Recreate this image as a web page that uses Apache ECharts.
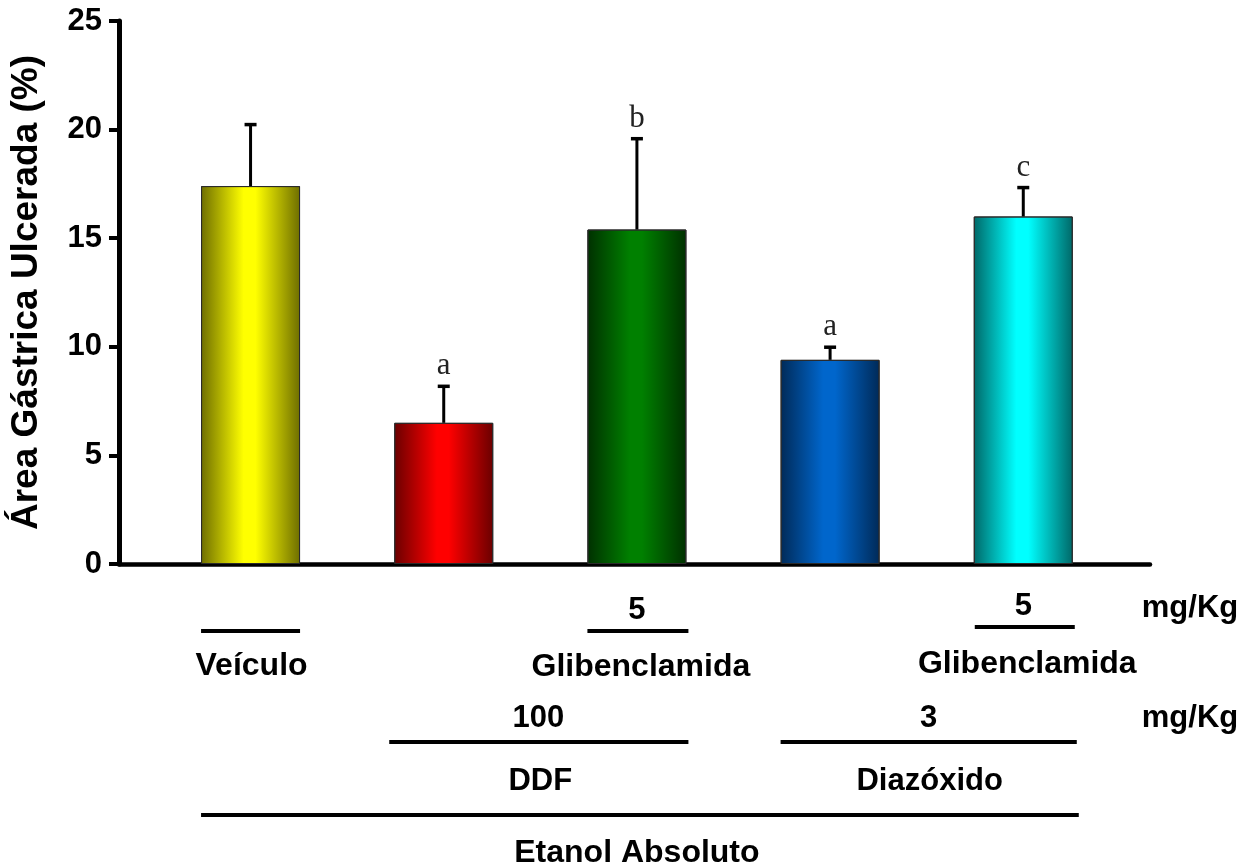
<!DOCTYPE html>
<html>
<head>
<meta charset="utf-8">
<script src="https://cdn.jsdelivr.net/npm/echarts@6/dist/echarts.min.js"></script>
<style>
  html, body { margin: 0; padding: 0; background: #fff; }
  #chart { width: 1253px; height: 868px; }
</style>
</head>
<body>
<div id="chart"></div>
<script>
// Grupos experimentais (ordem das barras)
const categories = ['Veículo', 'DDF', 'DDF + Glibenclamida', 'Diazóxido', 'Diazóxido + Glibenclamida'];
// Área gástrica ulcerada: média e erro padrão (%)
const means = [17.4, 6.5, 15.4, 9.4, 16.0];
const sem = [2.9, 1.75, 4.25, 0.65, 1.4];
// Letras de significância estatística
const letters = ['', 'a', 'b', 'a', 'c'];
// Cores das barras: [borda escura, centro claro]
const barColors = [
  ['#6e6e00', '#ffff00'],
  ['#6a0000', '#ff0000'],
  ['#003000', '#008000'],
  ['#002a58', '#0066cc'],
  ['#006868', '#00ffff']
];
// Textos do esquema de tratamento abaixo do eixo
const doseGlib = '5';
const doseDDF = '100';
const doseDiaz = '3';
const unit = 'mg/Kg';
const nameVehicle = 'Veículo';
const nameGlib = 'Glibenclamida';
const nameDDF = 'DDF';
const nameDiaz = 'Diazóxido';
const nameEthanol = 'Etanol Absoluto';
const yTitle = 'Área Gástrica Ulcerada (%)';

const FONT = "'Liberation Sans', Arial, sans-serif";
const BAR_W = 99;

const chart = echarts.init(document.getElementById('chart'), null, { renderer: 'canvas' });

function barGradient(c) {
  return new echarts.graphic.LinearGradient(0, 0, 1, 0, [
    { offset: 0, color: c[0] },
    { offset: 0.43, color: c[1] },
    { offset: 0.55, color: c[1] },
    { offset: 1, color: c[0] }
  ]);
}

const option = {
  animation: false,
  backgroundColor: '#ffffff',
  grid: { left: 110, right: 103, top: 21, bottom: 304, containLabel: false },
  xAxis: {
    type: 'value',
    min: -0.681,
    max: 4.656,
    axisLine: { show: true, lineStyle: { color: '#000', width: 4.5 } },
    axisTick: { show: false },
    axisLabel: { show: false },
    splitLine: { show: false }
  },
  yAxis: {
    type: 'value',
    min: 0,
    max: 25,
    interval: 5,
    name: yTitle,
    nameLocation: 'middle',
    nameGap: 74,
    nameRotate: 90,
    nameTextStyle: { fontFamily: FONT, fontWeight: 'bold', fontSize: 37, color: '#000' },
    axisLine: { show: true, onZero: false, lineStyle: { color: '#000', width: 5 } },
    axisTick: { show: true, inside: false, length: 10, lineStyle: { color: '#000', width: 4 } },
    axisLabel: { fontFamily: FONT, fontWeight: 'bold', fontSize: 31, color: '#000', margin: 17 },
    splitLine: { show: false }
  },
  series: [
    {
      type: 'bar',
      barWidth: BAR_W,
      data: means.map((m, i) => ({
        value: [i, m],
        itemStyle: { color: barGradient(barColors[i]), borderColor: '#2a2a2a', borderWidth: 1 }
      })),
      z: 2
    },
    {
      type: 'custom',
      z: 3,
      data: means.map((m, i) => [i, m, m + sem[i]]),
      renderItem: function (params, api) {
        const x = api.value(0);
        const base = api.coord([x, api.value(1)]);
        const top = api.coord([x, api.value(2)]);
        const letter = letters[params.dataIndex];
        const children = [
          { type: 'line', shape: { x1: base[0], y1: base[1], x2: top[0], y2: top[1] + 1 },
            style: { stroke: '#000', lineWidth: 3 } },
          { type: 'line', shape: { x1: top[0] - 6, y1: top[1] + 1.5, x2: top[0] + 6, y2: top[1] + 1.5 },
            style: { stroke: '#000', lineWidth: 3.5 } }
        ];
        if (letter) {
          children.push({
            type: 'text',
            style: {
              x: top[0], y: top[1] - 3, text: letter,
              textAlign: 'center', textVerticalAlign: 'bottom',
              font: "31px 'Liberation Serif', 'Times New Roman', serif",
              fill: '#222'
            }
          });
        }
        return { type: 'group', children: children };
      }
    }
  ]
};

chart.setOption(option);

// Esquema de tratamento: textos e traços alinhados às barras
const cx = i => chart.convertToPixel({ xAxisIndex: 0 }, i);
const leftEdge = i => cx(i) - BAR_W / 2;
const rightEdge = i => cx(i) + BAR_W / 2;
const mid = (a, b) => (cx(a) + cx(b)) / 2;
const UNIT_X = 1190;

function label(x, y, text, size) {
  return {
    type: 'text', silent: true,
    style: { x: x, y: y, text: text, textAlign: 'center', textVerticalAlign: 'middle',
             font: 'bold ' + (size || 31) + 'px ' + FONT, fill: '#000' }
  };
}
function rule(x1, x2, y) {
  return { type: 'line', silent: true, shape: { x1: x1, y1: y, x2: x2, y2: y },
           style: { stroke: '#000', lineWidth: 4 } };
}

chart.setOption({
  graphic: [
    label(cx(2), 610, doseGlib),
    rule(leftEdge(2), rightEdge(2) + 2, 631),
    label(UNIT_X, 608, unit),
    label(cx(0) + 1, 666, nameVehicle, 32),
    rule(leftEdge(0), rightEdge(0), 631),
    label(cx(2) + 4, 667, nameGlib, 32),
    label(cx(4), 606, doseGlib),
    rule(leftEdge(4) + 1, rightEdge(4) + 2, 627),
    label(cx(4) + 4, 664, nameGlib, 32),
    label(mid(1, 2) - 2, 718, doseDDF),
    label(mid(3, 4) + 2, 718, doseDiaz),
    label(UNIT_X, 718, unit),
    rule(leftEdge(1) - 5, rightEdge(2) + 2, 742),
    rule(leftEdge(3), rightEdge(4) + 4, 742),
    label(mid(1, 2), 781, nameDDF),
    label(mid(3, 4) + 3, 781, nameDiaz),
    rule(leftEdge(0), rightEdge(4) + 6, 815),
    label(mid(0, 4), 853, nameEthanol, 32)
  ]
});
</script>
</body>
</html>
